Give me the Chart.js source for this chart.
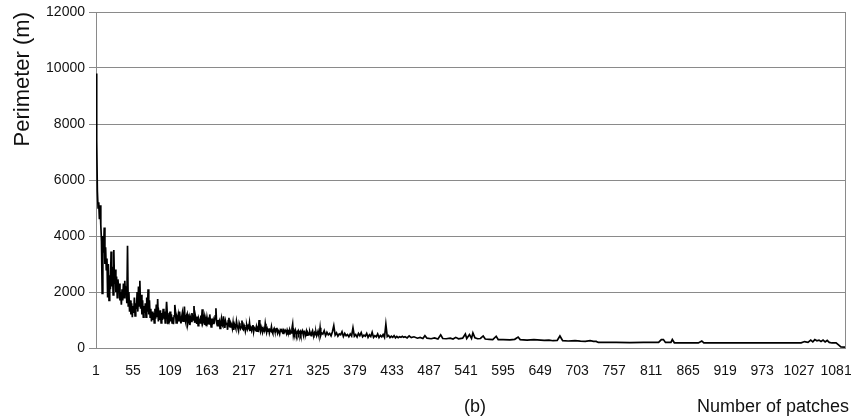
<!DOCTYPE html>
<html>
<head>
<meta charset="utf-8">
<script src="https://cdn.jsdelivr.net/npm/chart.js@4/dist/chart.umd.min.js"></script>
<style>
  html, body { margin: 0; padding: 0; background: #ffffff; }
  #wrap { width: 851px; height: 417px; position: relative; }
</style>
</head>
<body>
<div id="wrap"><canvas id="c"></canvas></div>
<script>
// ---- Data ----
// Patches 1..120 (every patch)
const denseAStart = 1, denseAStep = 1;
const perimeterDenseA = [
  9800, 7400, 5600, 5000, 5200, 4600, 5100, 4400, 3800, 1950,
  4000, 3400, 4300, 3000, 3600, 2800, 3200, 1800, 3000, 1700,
  2600, 2100, 3450, 2200, 2900, 1900, 3500, 2300, 2800, 2000,
  2550, 1800, 2450, 2100, 2300, 1700, 2000, 1550, 2100, 1700,
  2300, 1800, 2400, 1900, 2200, 1600, 3650, 1500, 2000, 1300,
  1700, 1200, 1600, 1100, 1500, 1250, 1800, 1150, 1600, 1400,
  2000, 1300, 2200, 1500, 2400, 1400, 1900, 1200, 1700, 1100,
  1500, 1250, 1600, 1100, 1800, 1300, 2100, 1200, 1700, 1100,
  1400, 950, 1300, 1000, 1250, 900, 1400, 1050, 1550, 1100,
  1750, 950, 1200, 1000, 1350, 900, 1250, 1000, 1400, 1050,
  1300, 900, 1150, 1650, 1250, 850, 1100, 1000, 1300, 950,
  1200, 900, 1100, 850, 1150, 1540, 1300, 900, 1100, 1000
];
// Patches 121..330 (every patch)
const denseBStart = 121, denseBStep = 1;
const perimeterDenseB = [
  1180, 950, 1300, 1020, 880, 1100, 1250, 960, 1050, 1480,
  1000, 900, 1150, 1220, 870, 990, 1100, 820, 1060, 950,
  1250, 1080, 1000, 1500, 900, 1150, 1020, 860, 1120, 800,
  1050, 980, 900, 1160, 1000, 1380, 880, 950, 1100, 820,
  1000, 780, 1080, 920, 1000, 860, 1200, 950, 750, 1050,
  900, 1000, 850, 980, 1150, 1420, 900, 800, 1000, 870,
  950, 700, 900, 1050, 820, 780, 1130, 900, 720, 960,
  850, 900, 650, 980, 1080, 760, 750, 880, 820, 700,
  900, 650, 850, 780, 700, 950, 800, 720, 620, 880,
  800, 700, 760, 980, 680, 650, 820, 760, 600, 720,
  800, 680, 780, 720, 900, 640, 700, 620, 760, 820,
  580, 720, 680, 650, 760, 600, 700, 650, 1000, 720,
  600, 750, 660, 560, 700, 640, 620, 870, 700, 560,
  680, 600, 700, 540, 650, 620, 760, 580, 520, 650,
  700, 600, 580, 680, 720, 540, 620, 580, 500, 640,
  600, 690, 560, 520, 620, 580, 640, 600, 520, 640,
  560, 600, 500, 640, 580, 540, 700, 850, 480, 600,
  520, 640, 560, 470, 580, 620, 500, 560, 600, 480,
  560, 620, 520, 450, 580, 540, 500, 600, 460, 560,
  520, 480, 580, 500, 440, 560, 620, 500, 460, 540,
  480, 560, 440, 520, 600, 480, 500, 720, 460, 540
];
// Patches 332..450 (every second patch)
const denseCStart = 332, denseCStep = 2;
const perimeterDenseC = [
  500, 620, 440, 560, 470, 520, 430, 580, 800, 460,
  540, 420, 500, 470, 580, 410, 520, 440, 480, 400,
  500, 430, 720, 420, 480, 390, 520, 440, 550, 400,
  460, 420, 520, 380, 470, 410, 560, 380, 440, 400,
  500, 370, 450, 400, 480, 380, 850, 410, 450, 370,
  420, 380, 440, 360, 410, 370, 400, 380, 420, 380
];
// Patches 452..1094 (sparser, the curve is nearly flat here)
const tailPatches = [
  452, 455, 458, 461, 465, 470, 474, 478, 481, 484, 490, 495, 500, 504, 507,
  512, 518, 522, 526, 530, 536, 540, 542, 546, 549, 551, 554, 558, 562, 566,
  569, 575, 580, 585, 588, 595, 605, 612, 617, 620, 630, 640, 645, 655, 662,
  668, 674, 678, 682, 690, 700, 708, 715, 722, 727, 731, 734, 760, 780, 800,
  822, 826, 829, 832, 840, 842, 845, 880, 885, 888, 950, 1000, 1030, 1035, 1040,
  1044, 1047, 1050, 1053, 1056, 1059, 1062, 1065, 1068, 1071, 1075, 1081, 1085, 1088, 1094
];
const tailPerimeter = [
  400, 360, 430, 370, 400, 350, 380, 340, 440, 350, 330, 360, 320, 470, 340,
  330, 350, 320, 380, 330, 350, 500, 340, 480, 340, 540, 360, 330, 340, 430,
  320, 310, 300, 420, 300, 300, 290, 310, 390, 300, 280, 300, 290, 270, 280,
  260, 270, 430, 260, 250, 260, 245, 240, 260, 240, 235, 200, 200, 195, 200,
  200, 300, 300, 200, 200, 300, 185, 180, 250, 180, 180, 180, 185, 230, 200,
  280, 220, 300, 260, 280, 230, 280, 220, 270, 200, 180, 180, 100, 40, 30
];
const xTickLabels = [1, 55, 109, 163, 217, 271, 325, 379, 433, 487, 541, 595, 649, 703, 757, 811, 865, 919, 973, 1027, 1081];
const yTickStep = 2000;
const yMax = 12000;
const xMin = 1, xMax = 1094;
const yTitle = 'Perimeter (m)';
const xTitle = 'Number of patches';
const panelLabel = '(b)';

// ---- Build points from the arrays ----
const points = [];
perimeterDenseA.forEach((v, i) => points.push({ x: denseAStart + i * denseAStep, y: v }));
perimeterDenseB.forEach((v, i) => points.push({ x: denseBStart + i * denseBStep, y: v }));
perimeterDenseC.forEach((v, i) => points.push({ x: denseCStart + i * denseCStep, y: v }));
tailPatches.forEach((p, i) => points.push({ x: p, y: tailPerimeter[i] }));

const FONT = 'Arial, "Liberation Sans", Helvetica, sans-serif';
const gridColor = '#8a8a8a';
const textColor = '#111111';

const extras = {
  id: 'extras',
  afterDraw(chart) {
    const { ctx, chartArea: a } = chart;
    ctx.save();
    ctx.strokeStyle = gridColor;
    ctx.lineWidth = 1;
    ctx.beginPath();
    ctx.moveTo(Math.round(a.right) + 0.5, a.top);
    ctx.lineTo(Math.round(a.right) + 0.5, a.bottom);
    ctx.stroke();
    ctx.fillStyle = textColor;
    ctx.font = '18px ' + FONT;
    ctx.textBaseline = 'middle';
    ctx.textAlign = 'center';
    ctx.fillText(panelLabel, 475, 407);
    ctx.textAlign = 'right';
    ctx.fillText(xTitle, 849, 407);
    ctx.restore();
  }
};

new Chart(document.getElementById('c'), {
  type: 'line',
  data: {
    datasets: [{
      data: points,
      borderColor: '#000000',
      borderWidth: 1.7,
      pointRadius: 0,
      tension: 0,
      fill: false
    }]
  },
  options: {
    responsive: true,
    maintainAspectRatio: false,
    animation: false,
    devicePixelRatio: 1,
    layout: { padding: { left: 0, right: 6, top: 12, bottom: 0 } },
    plugins: { legend: { display: false }, tooltip: { enabled: false } },
    scales: {
      x: {
        type: 'linear',
        min: xMin,
        max: xMax,
        afterBuildTicks(scale) { scale.ticks = xTickLabels.map(v => ({ value: v })); },
        afterFit(scale) { scale.height = 69; scale.paddingLeft = 0; scale.paddingRight = 0; },
        grid: { display: false },
        border: { display: true, color: gridColor, width: 1 },
        ticks: {
          autoSkip: false,
          maxRotation: 0,
          minRotation: 0,
          padding: 7,
          color: textColor,
          font: { family: FONT, size: 14 },
          callback: v => String(v)
        }
      },
      y: {
        min: 0,
        max: yMax,
        afterFit(scale) { scale.width = 96; scale.paddingTop = 0; scale.paddingBottom = 0; },
        grid: { color: gridColor, lineWidth: 1, tickLength: 7, tickColor: gridColor },
        border: { display: true, color: gridColor, width: 1 },
        ticks: {
          stepSize: yTickStep,
          padding: 4,
          color: textColor,
          font: { family: FONT, size: 14 },
          callback: v => String(v)
        },
        title: {
          display: true,
          text: yTitle,
          align: 'end',
          color: textColor,
          font: { family: FONT, size: 22 },
          padding: { top: 10, bottom: 0 }
        }
      }
    }
  },
  plugins: [extras]
});
</script>
</body>
</html>
